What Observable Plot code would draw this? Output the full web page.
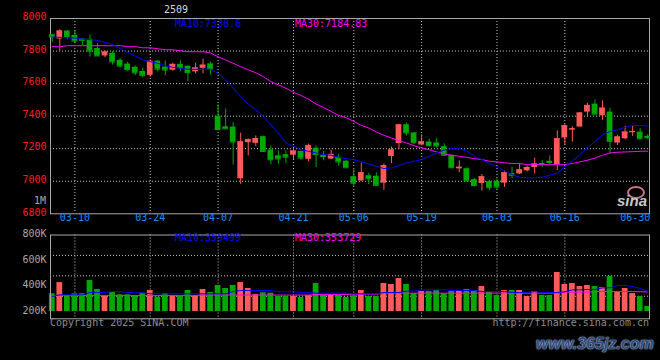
<!DOCTYPE html>
<html>
<head>
<meta charset="utf-8">
<script src="https://cdn.jsdelivr.net/npm/d3@7"></script>
<script src="https://cdn.jsdelivr.net/npm/@observablehq/plot@0.6"></script>
<style>
  html, body { margin: 0; padding: 0; background: #000; }
  #wrap { position: relative; width: 660px; height: 360px; background: #000; overflow: hidden; font-family: "DejaVu Sans Mono", monospace; }
  #main, #vol { position: absolute; left: 0; }
  #main { top: 0; }
  #vol { top: 228px; }
  svg { display: block; }
  .t { position: absolute; font-size: 10px; line-height: 10px; white-space: pre; font-family: "DejaVu Sans Mono", monospace; }
</style>
</head>
<body>
<div id="wrap">
  <div id="main"></div>
  <div id="vol"></div>
  <div class="t" style="left:164px;top:5px;color:#d8d8d8;">2509</div>
  <div class="t" style="left:175px;top:19px;color:#0000ff;">MA10:7338.6</div>
  <div class="t" style="left:295px;top:19px;color:#ff00ff;">MA30:7184.83</div>
  <div class="t" style="right:614px;top:195.5px;color:#a8a8a8;">1M</div>
  <div class="t" style="left:175px;top:233px;color:#0000ff;">MA10:359499</div>
  <div class="t" style="left:295px;top:233px;color:#ff00ff;">MA30:353729</div>
  <div class="t" style="left:50px;top:318px;color:#8c8c8c;">Copyright 2025 SINA.COM</div>
  <div class="t" style="right:11px;top:318px;color:#8c8c8c;">http://finance.sina.com.cn</div>
  <div style="position:absolute;left:627px;top:186px;width:14px;height:9px;border:2px solid #f08a9a;border-radius:50%;opacity:0.85;"></div>
  <div style="position:absolute;left:617px;top:193px;font:italic bold 15px 'Liberation Sans',sans-serif;color:#c8c8c8;line-height:15px;">sina</div>
  <div style="position:absolute;left:536px;top:336px;font:italic bold 16px 'Liberation Sans',sans-serif;color:#2c4c7c;line-height:16px;text-shadow:0 0 1px #c8d8f0,0 0 2px #9fb8dc;">www.365jz.com</div>
</div>
<script>
// ---- data ----
const dates = ["03-05","03-06","03-07","03-10","03-11","03-12","03-13","03-14","03-17","03-18","03-19","03-20","03-21","03-24","03-25","03-26","03-27","03-28","03-31",
"04-01","04-02","04-03","04-07","04-08","04-09","04-10","04-11","04-14","04-15","04-16","04-17","04-18","04-21","04-22","04-23","04-24","04-25","04-28","04-29","04-30",
"05-06","05-07","05-08","05-09","05-12","05-13","05-14","05-15","05-16","05-19","05-20","05-21","05-22","05-23","05-26","05-27","05-28","05-29","05-30",
"06-03","06-04","06-05","06-06","06-09","06-10","06-11","06-12","06-13","06-16","06-17","06-18","06-19","06-20","06-23","06-24","06-25","06-26","06-27","06-30","07-01"];

const opens = [7900,7874,7923,7896,7874,7872,7816,7770,7786,7743, 7720,7700,7674,7651,7738,7701,7682,7718,7707,7672,
7694,7721,7400,7334,7333,7015,7237,7233,7274,7192, 7156,7163,7160,7183,7135,7203,7158,7136,7147,7123,
7028,7002,7034,7031,6988,7152,7232,7347,7297,7223, 7241,7235,7213,7159,7076,7077,7010,6986,6998,7000,
6988,7047,7045,7064,7084,7109,7123,7102,7266,7315, 7333,7425,7474,7402,7425,7235,7261,7298,7302,7276];

const highs = [7902,7931,7927,7927,7876,7898,7845,7800,7796,7753, 7731,7708,7694,7745,7743,7739,7725,7739,7708,7725,
7750,7732,7470,7444,7360,7296,7260,7278,7278,7216, 7187,7186,7200,7186,7228,7217,7183,7190,7166,7127,
7076,7112,7049,7051,7106,7211,7347,7358,7299,7285, 7258,7262,7230,7160,7125,7081,7017,7041,7006,7015,
7062,7086,7109,7092,7143,7127,7155,7310,7347,7335, 7423,7480,7500,7494,7449,7282,7337,7337,7323,7286];

const lows = [7853,7800,7870,7845,7833,7763,7768,7759,7714,7696, 7676,7649,7635,7641,7672,7649,7676,7674,7612,7659,
7660,7653,7316,7320,7100,6980,7156,7213,7178,7101, 7104,7108,7131,7128,7119,7084,7126,7133,7092,7080,
6968,7000,6980,6970,6944,7108,7194,7279,7226,7218, 7210,7203,7156,7078,7053,6999,6964,6939,6943,6943,
6962,7015,7041,7057,7045,7084,7098,7066,7219,7241, 7333,7398,7408,7374,7164,7219,7255,7276,7259,7255];

const closes = [7886,7923,7890,7861,7866,7800,7770,7794,7733,7708, 7686,7666,7651,7737,7689,7683,7718,7698,7667,7696,
7713,7688,7318,7322,7241,7242,7255,7262,7183,7132, 7137,7148,7186,7142,7220,7163,7152,7165,7119,7083,
6988,7052,7015,6975,7095,7192,7346,7297,7236,7242, 7218,7217,7160,7083,7086,7001,6974,7027,6960,6964,
7052,7037,7070,7084,7106,7102,7115,7261,7341,7322, 7419,7466,7412,7449,7245,7272,7302,7306,7261,7268];

const ma10 = [7886,7884,7880,7880,7874,7870,7865,7853,7841,7816, 7792,7769,7747,7735,7725,7710,7700,7694,7688,7688,
7688,7688,7663,7623,7572,7521,7474,7439,7398,7347, 7296,7235,7215,7194,7184,7174,7164,7160,7147,7139,
7133,7119,7106,7092,7078,7082,7096,7113,7123,7133, 7153,7174,7192,7202,7202,7184,7153,7133,7109,7090,
7062,7041,7025,7021,7021,7025,7037,7049,7092,7123, 7164,7204,7245,7286,7306,7317,7331,7343,7343,7338.6];

const ma30 = [7827,7827,7833,7833,7833,7833,7833,7833,7833,7833, 7827,7827,7820,7820,7814,7808,7808,7802,7796,7796,
7796,7788,7765,7745,7725,7704,7684,7667,7643,7612, 7592,7572,7547,7527,7504,7474,7453,7429,7404,7390,
7368,7343,7327,7302,7282,7266,7249,7235,7219,7204, 7194,7180,7168,7160,7153,7147,7139,7133,7123,7119,
7113,7109,7109,7102,7102,7102,7102,7102,7102,7109, 7119,7129,7143,7160,7174,7178,7180,7182,7184,7184.83];

// volumes in thousands
const volumes = [339,427,326,339,339,443,373,326,349,331, 331,326,344,365,313,341,326,318,365,326,
373,349,404,381,404,427,381,334,347,344, 318,318,318,310,326,420,326,326,326,310,
323,365,318,318,420,412,459,412,341,357, 357,365,341,357,357,373,365,396,349,326,
365,365,365,318,357,326,326,506,412,420, 396,404,396,389,475,349,381,341,318,240];

const volMa10 = [318,331,331,331,331,349,349,349,357,357, 349,347,347,339,339,339,339,339,339,339,
339,339,339,339,357,365,365,365,365,365, 355,355,355,349,349,344,344,344,344,344,
339,339,339,339,349,349,349,360,360,370, 370,370,370,365,365,365,365,357,357,357,
357,349,349,349,357,349,349,349,355,370, 370,373,373,386,386,404,404,396,381,359.499];

const volMa30 = [326,326,326,326,326,326,326,326,326,326, 326,326,326,326,326,326,326,326,326,326,
329,329,329,329,329,329,329,329,329,329, 329,329,329,329,329,334,334,334,334,334,
336,336,336,336,344,344,344,344,344,344, 344,344,344,344,344,344,344,344,344,344,
344,344,344,344,344,344,344,344,352,352, 352,352,357,357,357,357,357,357,355,353.729];

const xTickLabels = ["03-10","03-24","04-07","04-21","05-06","05-19","06-03","06-16","06-30"];
const xGridDates = ["03-10","03-24","04-07","04-21","05-06","05-19","06-03","06-16"];
const priceTicks = [8000,7800,7600,7400,7200,7000,6800];
const priceGrid = [7800,7600,7400,7200,7000];
const volTicks = [800,600,400,200];
const volGrid = [640,480,320];
const volBase = 200;

// ---- build ----
const RED = "#ff5959", GREEN = "#00a800";
const GRID = "#c4c4c4", FRAME = "#a8a8a8";
const rows = dates.map((d, i) => ({
  date: d, o: opens[i], h: highs[i], l: lows[i], c: closes[i],
  ma10: ma10[i], ma30: ma30[i], v: volumes[i], vm10: volMa10[i], vm30: volMa30[i],
  col: closes[i] >= opens[i] ? RED : GREEN
}));

const xScale = {type: "band", domain: dates, range: [48, 651], padding: 0, axis: null};
const fontStyle = {background: "transparent", fontFamily: "'DejaVu Sans Mono', monospace", fontSize: "10px"};
const lastLabel = xTickLabels[xTickLabels.length - 1];

const main = Plot.plot({
  width: 660, height: 228,
  marginLeft: 50, marginRight: 11, marginTop: 18, marginBottom: 14.7,
  style: fontStyle,
  x: xScale,
  y: {domain: [6800, 8000], axis: null},
  color: {type: "identity"},
  marks: [
    Plot.ruleY(priceGrid, {y: d => d, stroke: GRID, strokeDasharray: "1,2"}),
    Plot.ruleX(xGridDates, {x: d => d, stroke: GRID, strokeDasharray: "1,2"}),
    Plot.frame({stroke: FRAME}),
    Plot.ruleX(rows, {x: "date", y1: "l", y2: "h", stroke: "col", strokeWidth: 1}),
    Plot.barY(rows, {x: "date", y1: d => Math.min(d.o, d.c), y2: d => Math.max(d.o, d.c), fill: "col", insetLeft: 0.9, insetRight: 0.9}),
    Plot.tickY(rows, {x: "date", y: "c", stroke: "col", insetLeft: 0.9, insetRight: 0.9}),
    Plot.lineY(rows, {x: "date", y: "ma30", stroke: "#ff00ff", strokeWidth: 1}),
    Plot.lineY(rows, {x: "date", y: "ma10", stroke: "#0000ff", strokeWidth: 1}),
    Plot.text(priceTicks, {y: d => d, text: d => String(d), frameAnchor: "left", textAnchor: "end", dx: -4, dy: -1.5, fill: "#ff1c1c"}),
    Plot.text(xTickLabels.filter(d => d !== lastLabel), {x: d => d, text: d => d, frameAnchor: "bottom", dy: 7, fill: "#1e8cff"}),
    Plot.text([lastLabel], {x: d => d, text: d => d, frameAnchor: "bottom", dy: 7, dx: -5, fill: "#1e8cff"})
  ]
});
document.getElementById("main").appendChild(main);

const vol = Plot.plot({
  width: 660, height: 132,
  marginLeft: 50, marginRight: 11, marginTop: 6.5, marginBottom: 41.7,
  style: fontStyle,
  x: xScale,
  y: {domain: [143, 800], axis: null},
  color: {type: "identity"},
  marks: [
    Plot.ruleY(volGrid, {y: d => d, stroke: GRID, strokeDasharray: "1,2"}),
    Plot.ruleX(xGridDates, {x: d => d, stroke: GRID, strokeDasharray: "1,2"}),
    Plot.barY(rows, {x: "date", y1: () => volBase, y2: "v", fill: "col", insetLeft: 0.9, insetRight: 0.9}),
    Plot.lineY(rows, {x: "date", y: "vm30", stroke: "#ff00ff", strokeWidth: 1}),
    Plot.lineY(rows, {x: "date", y: "vm10", stroke: "#0000ff", strokeWidth: 1}),
    Plot.frame({stroke: FRAME}),
    Plot.text(volTicks, {y: d => d, text: d => d + "K", frameAnchor: "left", textAnchor: "end", dx: -4, dy: -1, fill: "#a8a8a8"})
  ]
});
document.getElementById("vol").appendChild(vol);
</script>
</body>
</html>
